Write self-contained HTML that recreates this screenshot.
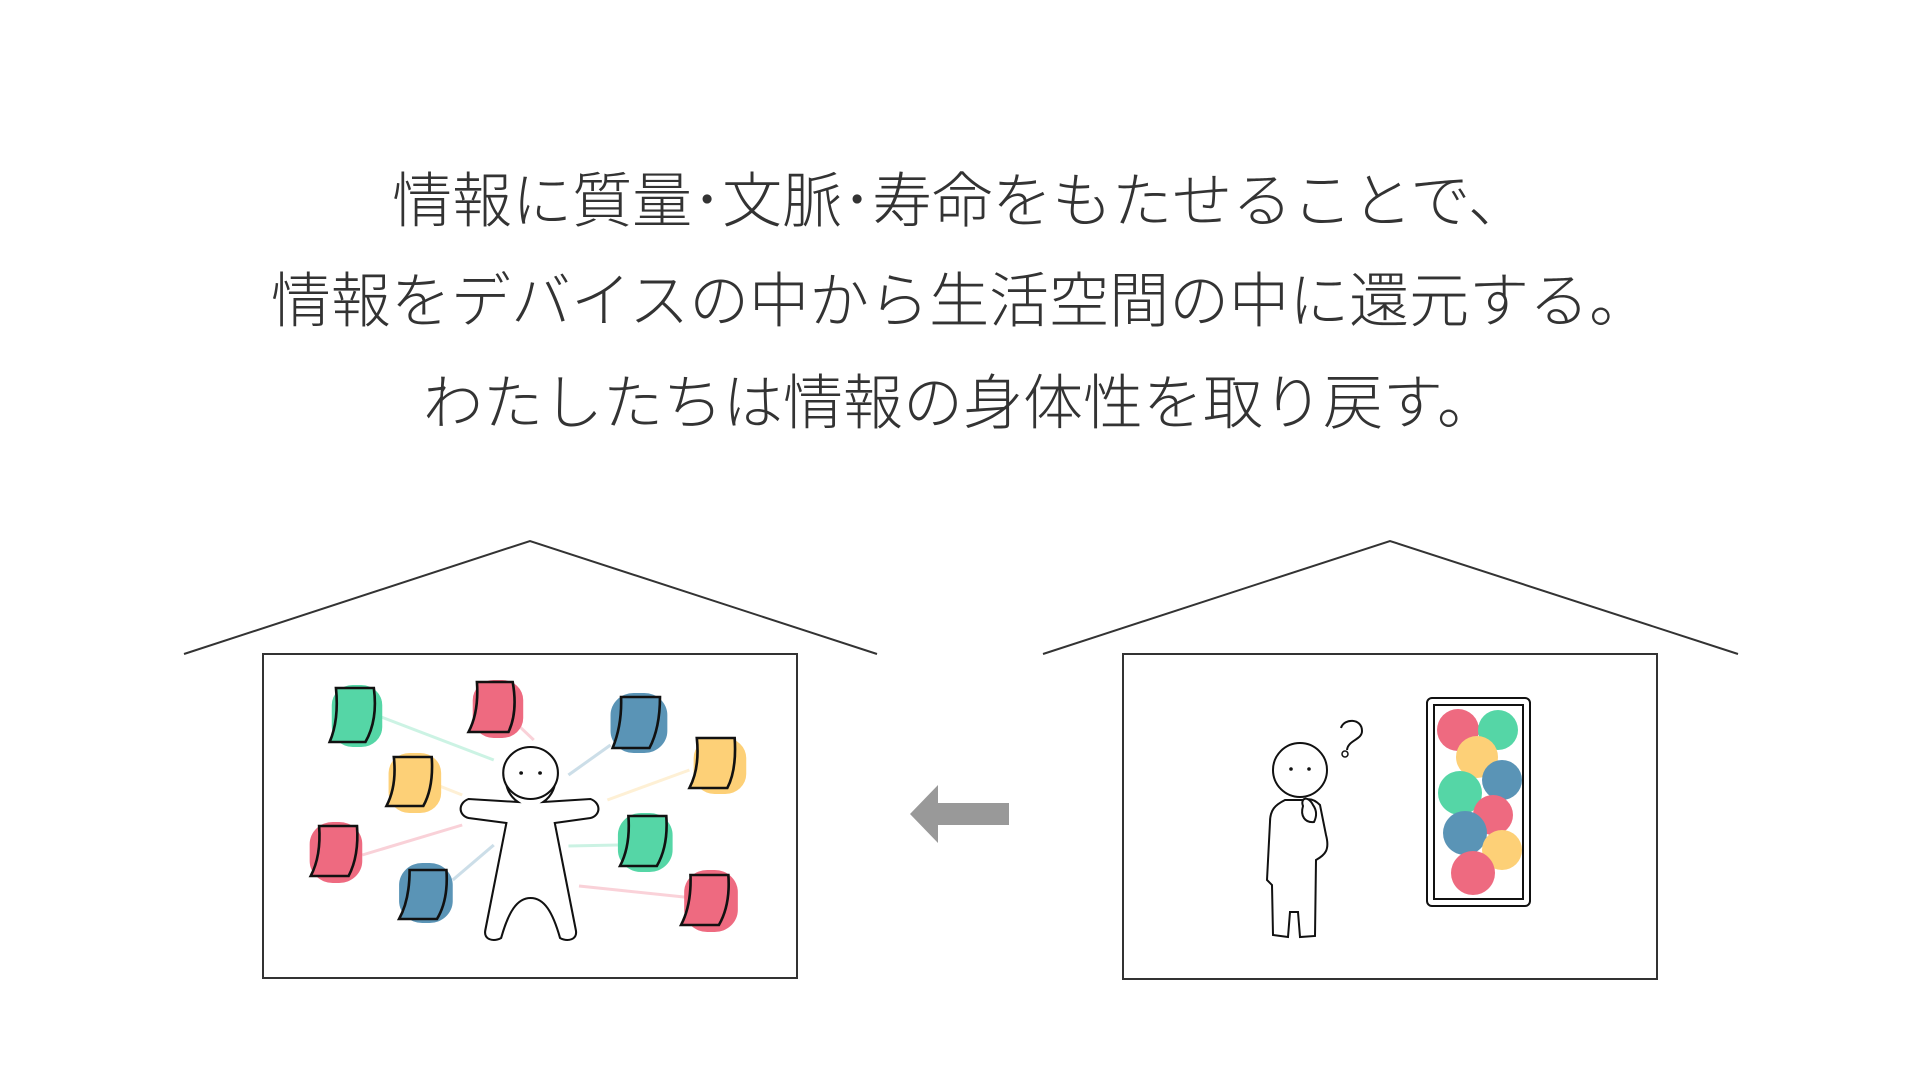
<!DOCTYPE html>
<html><head><meta charset="utf-8"><style>
html,body{margin:0;padding:0;background:#fff;width:1920px;height:1080px;overflow:hidden}
.t{position:absolute;left:0;width:1920px;text-align:center;font-family:"Liberation Sans","Noto Sans CJK JP",sans-serif;font-weight:300;font-size:60px;color:#333;line-height:70px;white-space:nowrap}
svg{position:absolute;left:0;top:0}
</style></head><body>
<div class="t" style="top:167px">情報に質量･文脈･寿命をもたせることで、</div>
<div class="t" style="top:267px">情報をデバイスの中から生活空間の中に還元する。</div>
<div class="t" style="top:369px">わたしたちは情報の身体性を取り戻す。</div>
<svg width="1920" height="1080" viewBox="0 0 1920 1080">
<g fill="none" stroke="#333" stroke-width="2">
<polyline points="184,654 530,541 877,654"/>
<rect x="263" y="654" width="534" height="324"/>
<polyline points="1043,654 1390,541 1738,654"/>
<rect x="1123" y="654" width="534" height="325"/>
</g>
<polygon points="910,814 938,785 938,803 1009,803 1009,825 938,825 938,843" fill="#999"/>
<g transform="matrix(1.052 0 0 1 -13.3 0)">
<g stroke-width="3" opacity="0.3" fill="none">
<line x1="375" y1="717" x2="482" y2="760" stroke="#55d6a6"/>
<line x1="505" y1="725" x2="520" y2="740" stroke="#ee6a80"/>
<line x1="593" y1="745" x2="553" y2="775" stroke="#5a94b6"/>
<line x1="668" y1="770" x2="590" y2="800" stroke="#fdd077"/>
<line x1="428" y1="785" x2="452" y2="795" stroke="#fdd077"/>
<line x1="357" y1="855" x2="452" y2="825" stroke="#ee6a80"/>
<line x1="600" y1="845" x2="553" y2="846" stroke="#55d6a6"/>
<line x1="443" y1="880" x2="482" y2="845" stroke="#5a94b6"/>
<line x1="563" y1="886" x2="690" y2="900" stroke="#ee6a80"/>
</g>
<g stroke="#111" stroke-width="2.5">
<g><rect x="328" y="685" width="48" height="62" rx="20" fill="#55d6a6" stroke="none"/><path d="M332,688 L368,688 Q372,720 360,742 L326,742 Q335,720 332,688Z" fill="#55d6a6"/></g>
<g><rect x="462" y="680" width="48" height="58" rx="20" fill="#ee6a80" stroke="none"/><path d="M466,682 L500,682 Q505,712 496,732 L458,732 Q468,712 466,682Z" fill="#ee6a80"/></g>
<g><rect x="593" y="693" width="54" height="60" rx="22" fill="#5a94b6" stroke="none"/><path d="M603,697 L640,697 Q640,728 630,748 L595,748 Q604,725 603,697Z" fill="#5a94b6"/></g>
<g><rect x="672" y="738" width="50" height="56" rx="20" fill="#fdd077" stroke="none"/><path d="M675,738 L711,738 Q713,770 704,788 L668,788 Q678,768 675,738Z" fill="#fdd077"/></g>
<g><rect x="382" y="753" width="50" height="60" rx="20" fill="#fdd077" stroke="none"/><path d="M387,757 L423,757 Q425,787 415,806 L380,806 Q390,786 387,757Z" fill="#fdd077"/></g>
<g><rect x="307" y="822" width="50" height="61" rx="22" fill="#ee6a80" stroke="none"/><path d="M316,826 L352,826 Q354,856 344,876 L308,876 Q318,856 316,826Z" fill="#ee6a80"/></g>
<g><rect x="600" y="813" width="52" height="59" rx="22" fill="#55d6a6" stroke="none"/><path d="M610,816 L646,816 Q648,846 637,866 L602,866 Q612,846 610,816Z" fill="#55d6a6"/></g>
<g><rect x="392" y="863" width="51" height="60" rx="22" fill="#5a94b6" stroke="none"/><path d="M402,870 L437,870 Q439,900 428,919 L392,919 Q402,900 402,870Z" fill="#5a94b6"/></g>
<g><rect x="663" y="870" width="51" height="62" rx="22" fill="#ee6a80" stroke="none"/><path d="M669,875 L705,875 Q707,905 696,925 L660,925 Q670,905 669,875Z" fill="#ee6a80"/></g>
</g>
<g fill="#fff" stroke="#111" stroke-width="2">
<path d="M505,802 C488,790 488,760 517,748 C546,760 546,790 529,802 L574,799 C584,803 584,815 574,818 L540,823 L560,930 C562,940 552,942 545,938 C538,912 530,898 517,898 C504,898 496,912 489,938 C482,942 472,940 474,930 L494,823 L458,818 C448,815 448,803 458,799 Z"/>
<circle cx="517" cy="773" r="26"/>
</g>
<circle cx="508" cy="773" r="1.8" fill="#111"/><circle cx="526" cy="773" r="1.8" fill="#111"/>
</g>
<g fill="#fff" stroke="#111" stroke-width="2">
<path d="M1285,800 C1275,805 1270,810 1270,822 L1267,880 L1272,885 L1273,935 L1288,937 L1290,912 L1298,912 L1300,937 L1315,936 L1316,860 C1325,855 1330,850 1326,835 L1320,805 C1315,800 1310,798 1305,800 Z"/>
<circle cx="1300" cy="770" r="27"/>
<path d="M1303,806 C1300,798 1308,795 1313,805 C1318,812 1316,818 1314,822 C1305,823 1300,816 1303,806Z"/>
</g>
<circle cx="1291" cy="769" r="1.8" fill="#111"/><circle cx="1309" cy="769" r="1.8" fill="#111"/>
<path d="M1341,728 C1344,718 1362,718 1362,731 C1362,740 1348,740 1347,750" fill="none" stroke="#111" stroke-width="2"/>
<circle cx="1345" cy="754" r="3" fill="none" stroke="#111" stroke-width="1.5"/>
<rect x="1427" y="698" width="103" height="208" rx="5" fill="#fff" stroke="#111" stroke-width="2"/>
<rect x="1434" y="705" width="89" height="194" fill="#fff" stroke="#111" stroke-width="2"/>
<g>
<circle cx="1458" cy="730" r="21" fill="#ee6a80"/>
<circle cx="1498" cy="730" r="20" fill="#55d6a6"/>
<circle cx="1477" cy="757" r="21" fill="#fdd077"/>
<circle cx="1502" cy="780" r="20" fill="#5a94b6"/>
<circle cx="1460" cy="793" r="22" fill="#55d6a6"/>
<circle cx="1493" cy="815" r="20" fill="#ee6a80"/>
<circle cx="1465" cy="833" r="22" fill="#5a94b6"/>
<circle cx="1502" cy="850" r="20" fill="#fdd077"/>
<circle cx="1473" cy="873" r="22" fill="#ee6a80"/>
</g>
</svg>
</body></html>
